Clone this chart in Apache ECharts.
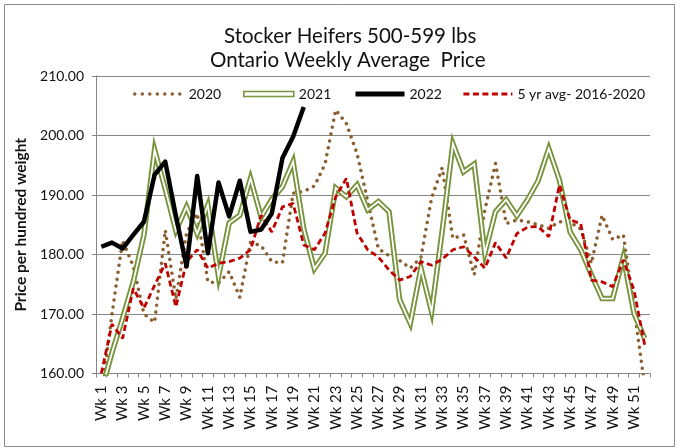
<!DOCTYPE html>
<html><head><meta charset="utf-8">
<script src="https://cdn.jsdelivr.net/npm/echarts@6/dist/echarts.min.js"></script>
<style>html,body{margin:0;padding:0;background:#fff}#c{width:677px;height:448px}</style>
</head><body><div id="c"></div>
<script>
const titleLine1 = 'Stocker Heifers 500-599 lbs';
const titleLine2 = 'Ontario Weekly Average  Price';
const yAxisTitle = 'Price per hundred weight';

const weeks = ['Wk 1','Wk 2','Wk 3','Wk 4','Wk 5','Wk 6','Wk 7','Wk 8','Wk 9','Wk 10',
  'Wk 11','Wk 12','Wk 13','Wk 14','Wk 15','Wk 16','Wk 17','Wk 18','Wk 19','Wk 20',
  'Wk 21','Wk 22','Wk 23','Wk 24','Wk 25','Wk 26','Wk 27','Wk 28','Wk 29','Wk 30',
  'Wk 31','Wk 32','Wk 33','Wk 34','Wk 35','Wk 36','Wk 37','Wk 38','Wk 39','Wk 40',
  'Wk 41','Wk 42','Wk 43','Wk 44','Wk 45','Wk 46','Wk 47','Wk 48','Wk 49','Wk 50',
  'Wk 51','Wk 52'];

const seriesNames = ['2020', '2021', '2022', '5 yr avg- 2016-2020'];

const y2020 = [156, 170, 182.4, 178, 170, 168.6, 184.1, 172.5, 183.6, 186.9,
  175.4, 175.2, 177.1, 172.8, 182, 181.5, 178.8, 178.6, 190.3, 190.6,
  191.5, 195.2, 204.3, 202, 197, 189, 181, 179.8, 179, 177.7,
  179.5, 189.5, 194.6, 182.7, 183.3, 176.6, 187.5, 195.3, 185.2, 185.8,
  185.5, 185, 184.4, 185.5, 185.4, 184.3, 178.5, 186.6, 182.5, 183.3,
  171, 158];

const y2021 = [157, 163.5, 169.3, 175.4, 183.3, 197.6, 191, 184, 188, 183.5,
  188.3, 176.3, 185.3, 186.6, 192.8, 186.3, 189.3, 191.4, 195.6, 184.3,
  177.6, 180.2, 191.2, 189.7, 191.7, 187.5, 188.9, 187.2, 172.4, 168.4,
  177.7, 170.4, 184, 198.6, 193.9, 195.2, 180.2, 187.2, 189.2, 186.5,
  189.2, 192.4, 197.8, 192.5, 183.8, 180.8, 176.6, 172.6, 172.6, 179.6,
  170.1, 165.9];

const y2022 = [181.3, 182.0, 181.0, 183.3, 185.5, 193.4, 195.6, 186.5, 178.0, 193.2,
  180.2, 192.1, 186.4, 192.4, 183.8, 184.2, 186.9, 196.2, 199.8, 204.8];

const y5yr = [160, 168.3, 165.9, 174.3, 171, 174.8, 178.5, 171.2, 178.8, 180.8,
  177.7, 178.5, 178.8, 179.4, 180.8, 186.6, 183.8, 188, 188.6, 181.6,
  180.8, 183.6, 189.7, 192.8, 183.6, 180.8, 179.6, 177.4, 175.7, 176.3,
  178.8, 178.2, 179.2, 180.8, 181.3, 179.6, 177.7, 182, 179.4, 183.5,
  184.6, 184.7, 183, 191.7, 185.8, 185.2, 175.7, 175.4, 174.6, 179.1,
  174, 164.8];

const FONT = 'Lato, "Open Sans", "Noto Sans", sans-serif';
const TXT = '#111';
const C2020 = '#8c5f30', C2021 = '#77933c', C2022 = '#000000', C5YR = '#c00000';

const chart = echarts.init(document.getElementById('c'), null, {renderer: 'canvas'});

const legendText = {fontFamily: FONT, fontSize: 14, color: TXT};
function lineLegend(name, left, lineStyle) {
  return {
    data: [{name: name}], left: left, top: 87, padding: 0, itemGap: 0,
    itemWidth: 49, itemHeight: 14, textStyle: legendText,
    itemStyle: {opacity: 0}, lineStyle: lineStyle, selectedMode: false
  };
}
function titleText(text, x, cy) {
  return {type: 'text', x: x, y: cy, silent: true, z: 10,
    style: {text: text, align: 'left', verticalAlign: 'middle',
      fontFamily: FONT, fontSize: 20.5, fill: TXT}};
}

const option = {
  animation: false,
  backgroundColor: '#fff',
  legend: [
    lineLegend(seriesNames[0], 133, {width: 3.5, color: C2020, type: [0.01, 7.5], cap: 'round'}),
    {
      data: [{name: seriesNames[1], icon: 'path://M0,0H50V5H0Z',
              itemStyle: {color: '#fff', borderColor: C2021, borderWidth: 1.6, opacity: 1}}],
      left: 243, top: 87, padding: 0, itemGap: 0, itemWidth: 50, itemHeight: 14,
      textStyle: legendText, selectedMode: false
    },
    lineLegend(seriesNames[2], 353, {width: 5, color: C2022, type: 'solid', cap: 'butt'}),
    lineLegend(seriesNames[3], 462, {width: 2.8, color: C5YR, type: [6, 3.5], cap: 'butt'})
  ],
  grid: {left: 96, right: 27, top: 76, bottom: 74.5, outerBoundsMode: 'none', containLabel: false},
  xAxis: {
    type: 'category', data: weeks, boundaryGap: true,
    axisLine: {show: true, lineStyle: {color: '#868686', width: 1}},
    axisTick: {show: true, interval: 0, length: 4, lineStyle: {color: '#868686'}},
    axisLabel: {interval: 1, rotate: 90, margin: 12, fontFamily: FONT, fontSize: 15, color: TXT},
    splitLine: {show: false}
  },
  yAxis: {
    type: 'value', min: 160, max: 210, interval: 10,
    name: yAxisTitle, nameLocation: 'middle', nameRotate: 90, nameGap: 63,
    nameTextStyle: {fontFamily: FONT, fontSize: 15.5, fontWeight: 'bold', color: TXT},
    axisLine: {show: true, lineStyle: {color: '#868686', width: 1}},
    axisTick: {show: true, length: 4, lineStyle: {color: '#868686'}},
    axisLabel: {margin: 12, fontFamily: FONT, fontSize: 14, color: TXT,
      formatter: function (v) { return v.toFixed(2); }},
    splitLine: {show: true, lineStyle: {color: '#868686', width: 1}}
  },
  series: [
    {name: seriesNames[0], type: 'line', data: y2020, symbol: 'none', clip: true,
     lineStyle: {color: C2020, width: 3.5, type: [0.01, 7], cap: 'round', join: 'round'},
     itemStyle: {color: C2020}, emphasis: {disabled: true}, z: 2},
    {name: seriesNames[1], type: 'line', data: y2021, symbol: 'none', clip: true,
     lineStyle: {color: C2021, width: 5.5, join: 'miter'},
     itemStyle: {color: C2021}, emphasis: {disabled: true}, z: 3},
    {name: '2021 inner', type: 'line', data: y2021, symbol: 'none', clip: true, silent: true,
     lineStyle: {color: '#ffffff', width: 1.8, join: 'miter'},
     itemStyle: {color: '#ffffff'}, emphasis: {disabled: true}, z: 4},
    {name: seriesNames[3], type: 'line', data: y5yr, symbol: 'none', clip: true,
     lineStyle: {color: C5YR, width: 2.8, type: [6, 3.5]},
     itemStyle: {color: C5YR}, emphasis: {disabled: true}, z: 5},
    {name: seriesNames[2], type: 'line', data: y2022, symbol: 'none', clip: true,
     lineStyle: {color: C2022, width: 4.5, join: 'round'},
     itemStyle: {color: C2022}, emphasis: {disabled: true}, z: 6}
  ],
  graphic: [
    {type: 'rect', shape: {x: 4.5, y: 4.5, width: 670, height: 442},
     style: {fill: 'none', stroke: '#8a8a8a', lineWidth: 1}, silent: true, z: 0},
    titleText(titleLine1, 224, 36),
    titleText(titleLine2, 210, 60)
  ]
};
chart.setOption(option);
</script>
</body></html>
